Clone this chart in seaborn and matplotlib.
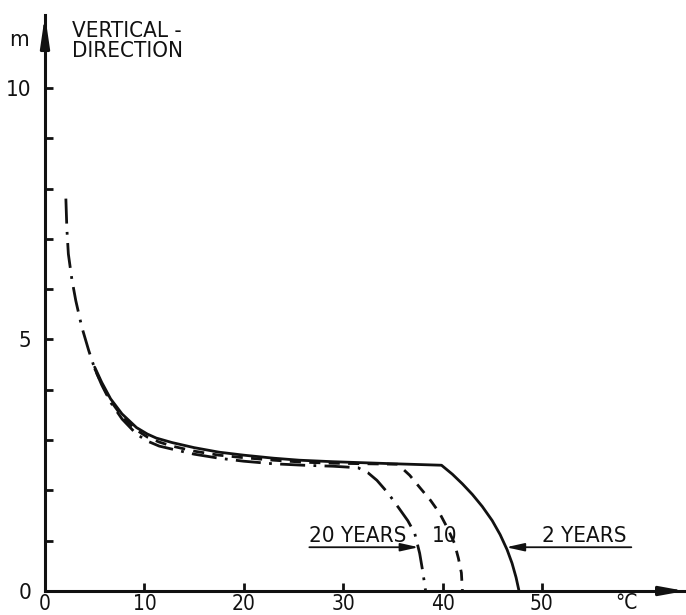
import matplotlib
matplotlib.use("Agg")
import matplotlib.pyplot as plt
import seaborn as sns
import pandas as pd

# Depth (m) of a given temperature front along the vertical direction
# after 2, 10 and 20 years of operation.
x_2yr = [5.0, 5.7, 6.6, 7.75, 9.2, 10.3, 11.2, 12.8, 15, 17.5, 20, 23, 25.6, 29, 32, 35,
         39.9, 41.0, 42.0, 43.0, 44.0, 45.0, 45.8, 46.5, 47.0, 47.4, 47.7]
y_2yr = [4.45, 4.15, 3.82, 3.52, 3.25, 3.12, 3.04, 2.95, 2.85, 2.76, 2.7, 2.64, 2.6, 2.57, 2.55, 2.53,
         2.5, 2.32, 2.13, 1.92, 1.68, 1.4, 1.12, 0.82, 0.55, 0.27, 0.0]

x_10yr = [5.0, 5.7, 6.6, 7.75, 9.2, 10.3, 11.5, 12.8, 15, 17.5, 20, 23, 26, 29, 32, 35.5,
          36.7, 37.7, 38.8, 39.7, 40.5, 41.2, 41.6, 41.9, 42.0]
y_10yr = [4.42, 4.12, 3.78, 3.47, 3.2, 3.06, 2.96, 2.88, 2.78, 2.7, 2.65, 2.6, 2.56, 2.54, 2.53, 2.52,
          2.3, 2.06, 1.8, 1.55, 1.25, 0.95, 0.65, 0.36, 0.0]

x_20yr = [2.1, 2.2, 2.35, 2.7, 3.1, 3.7, 4.4, 5.0, 5.7, 6.6, 7.75, 9.2, 10.3, 11.5, 12.8, 15,
          17.5, 20, 22.9, 26, 29, 31.5, 32.5, 33.4, 34.5, 35.6, 36.5, 37.2, 37.7, 38.0, 38.3]
y_20yr = [7.8, 7.2, 6.7, 6.2, 5.77, 5.25, 4.78, 4.42, 4.1, 3.75, 3.42, 3.12, 2.98, 2.88, 2.82, 2.72,
          2.64, 2.58, 2.53, 2.5, 2.48, 2.45, 2.35, 2.2, 1.95, 1.65, 1.4, 1.15, 0.75, 0.4, 0.0]

x_ticks = [0, 10, 20, 30, 40, 50]
y_ticks_major = [0, 5, 10]
y_ticks_minor = [1, 2, 3, 4, 6, 7, 8, 9]

sns.set_theme(style="white")
plt.rcParams["font.family"] = ["DejaVu Sans"]
plt.rcParams["font.stretch"] = "condensed"

fig = plt.figure(figsize=(6.86, 6.15), dpi=100)
ax = fig.add_axes([45 / 686, 24 / 615, 640 / 686, 576 / 615])
ax.set_xlim(0, 64.4)
ax.set_ylim(0, 11.45)

ink = "#111111"
lw = 2.0

curves = [
    (x_2yr, y_2yr, "-"),
    (x_10yr, y_10yr, (0, (4.0, 3.0))),
    (x_20yr, y_20yr, (0, (9.0, 3.0, 1.0, 3.0))),
]
for xs, ys, style in curves:
    df = pd.DataFrame({"T": xs, "z": ys})
    sns.lineplot(data=df, x="T", y="z", ax=ax, color=ink, lw=lw,
                 linestyle=style, sort=False, estimator=None)

ax.set_xlabel("")
ax.set_ylabel("")

# Axes drawn as arrows
for s in ["top", "right"]:
    ax.spines[s].set_visible(False)
for s in ["left", "bottom"]:
    ax.spines[s].set_color(ink)
    ax.spines[s].set_linewidth(2.2)
ax.annotate("", xy=(0, 11.45), xytext=(0, 10.9), xycoords="data",
            arrowprops=dict(arrowstyle="-|>,head_length=1.5,head_width=0.22",
                            color=ink, lw=2.2, shrinkA=0, shrinkB=0),
            annotation_clip=False)
ax.annotate("", xy=(64.4, 0), xytext=(62.0, 0), xycoords="data",
            arrowprops=dict(arrowstyle="-|>,head_length=1.2,head_width=0.22",
                            color=ink, lw=2.2, shrinkA=0, shrinkB=0),
            annotation_clip=False)

fs = 16
ax.set_xticks(x_ticks)
ax.set_xticklabels([str(v) for v in x_ticks])
ax.set_yticks(y_ticks_major)
ax.set_yticklabels([str(v) for v in y_ticks_major])
ax.set_yticks(y_ticks_minor, minor=True)
ax.tick_params(axis="x", direction="in", length=6, width=2, color=ink,
               labelsize=fs - 1, labelcolor=ink, pad=2, bottom=True)
ax.tick_params(axis="y", which="both", direction="in", length=6, width=2, color=ink,
               labelsize=fs, labelcolor=ink, pad=10, left=True)
ax.xaxis.get_major_ticks()[0].tick1line.set_visible(False)
ax.yaxis.get_major_ticks()[0].tick1line.set_visible(False)

# Axis units and title
ax.text(-2.6, 10.95, "m", fontsize=fs, color=ink, ha="center", va="center",
        clip_on=False)
ax.text(58.5, -0.24, "°C", fontsize=fs - 1, color=ink, ha="center", va="center",
        clip_on=False)
ax.text(2.7, 11.33, "VERTICAL -\nDIRECTION", fontsize=fs, color=ink,
        ha="left", va="top", linespacing=1.0)

# Curve labels with pointer arrows
ax.text(26.6, 0.97, "20 YEARS", fontsize=fs, color=ink, ha="left", va="baseline")
ax.annotate("", xy=(37.6, 0.87), xytext=(26.6, 0.87),
            arrowprops=dict(arrowstyle="-|>,head_length=0.9,head_width=0.2",
                            color=ink, lw=1.3, shrinkA=0, shrinkB=0))
ax.text(38.9, 0.97, "10", fontsize=fs, color=ink, ha="left", va="baseline")
ax.text(50.0, 0.97, "2 YEARS", fontsize=fs, color=ink, ha="left", va="baseline")
ax.annotate("", xy=(46.4, 0.87), xytext=(59.0, 0.87),
            arrowprops=dict(arrowstyle="-|>,head_length=0.9,head_width=0.2",
                            color=ink, lw=1.3, shrinkA=0, shrinkB=0))

fig.savefig("out.png", dpi=100, facecolor="white")
